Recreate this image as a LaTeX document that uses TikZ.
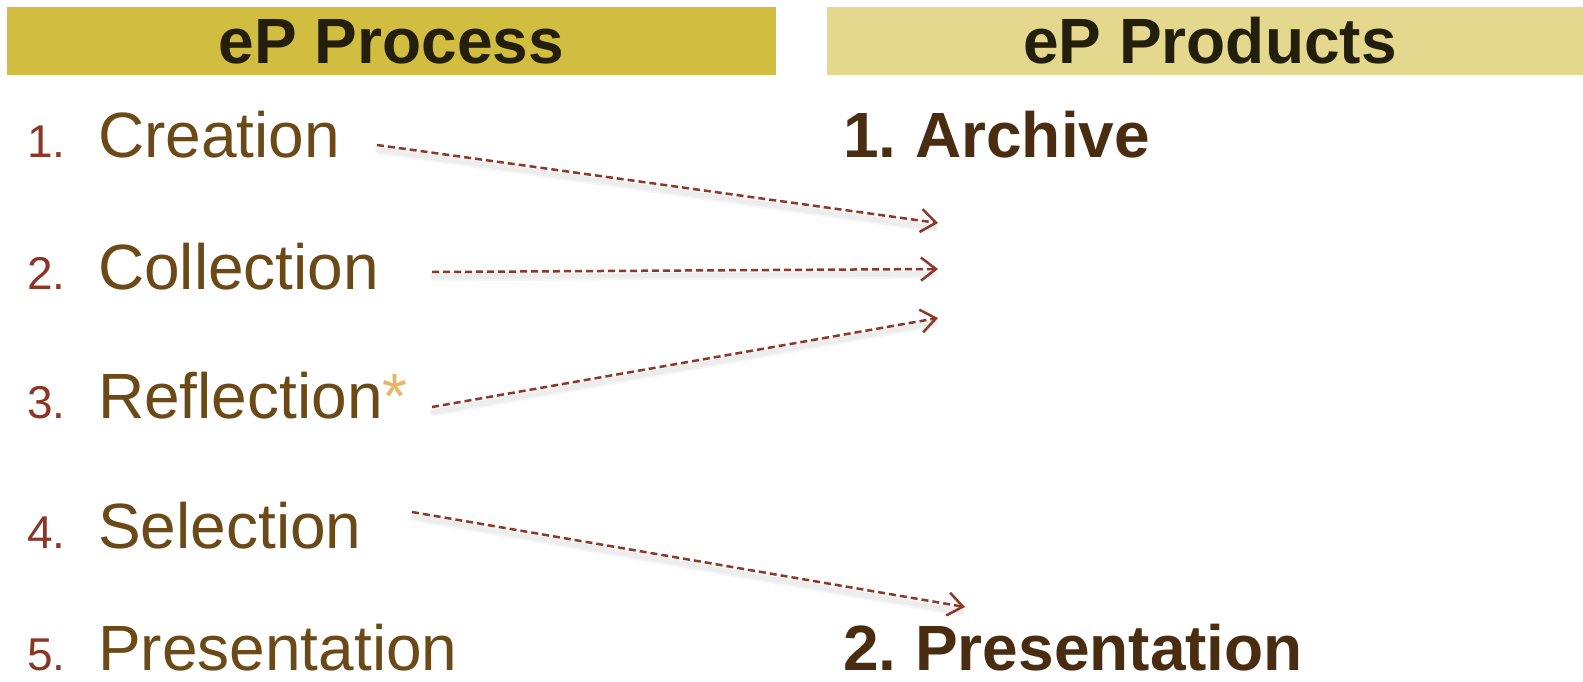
\documentclass[tikz,border=0pt]{standalone}
\usepackage{fontspec}
\setmainfont{Liberation Sans}
\usetikzlibrary{arrows.meta}
\definecolor{hdrA}{RGB}{209,190,64}
\definecolor{hdrB}{RGB}{228,216,142}
\definecolor{hdrtext}{RGB}{35,31,12}
\definecolor{itemtext}{RGB}{107,74,23}
\definecolor{numtext}{RGB}{140,54,38}
\definecolor{prodtext}{RGB}{74,44,16}
\definecolor{startext}{RGB}{230,181,102}
\definecolor{arrowc}{RGB}{139,58,42}
\tikzset{
  hdr/.style={inner sep=0pt, text height=46pt, text depth=0pt, minimum height=68pt,
    font=\fontsize{64}{70}\selectfont\bfseries, text=hdrtext},
  numlabel/.style={anchor=base west, inner sep=0pt, font=\fontsize{46}{50}\selectfont, text=numtext},
  itemlabel/.style={anchor=base west, inner sep=0pt, font=\fontsize{64}{70}\selectfont, text=itemtext},
  prodlabel/.style={anchor=base west, inner sep=0pt, font=\fontsize{64}{70}\selectfont\bfseries, text=prodtext},
  linkarrow/.style={draw=arrowc, line width=2.5pt, dash pattern=on 7pt off 4pt,
    -{Straight Barb[length=15pt,width=23pt,line width=2.5pt]}},
  shadowline/.style={draw=black, draw opacity=0.035, line cap=round}
}
\begin{document}
\begin{tikzpicture}[x=1pt,y=-1pt]
\useasboundingbox (0,0) rectangle (1583,682);
% headers
\node[hdr, fill=hdrA, minimum width=769pt] (h1) at (391.5,41) {eP Process};
\node[hdr, fill=hdrB, minimum width=756pt] (h2) at (1205,41) {};
\node[hdr, minimum height=0pt] (h2t) at (1210,41) {eP Products};
% left list
\node[numlabel] (n1) at (27,158) {1.};
\node[itemlabel] (i1) at (98,158) {Creation};
\node[numlabel] (n2) at (27,289) {2.};
\node[itemlabel] (i2) at (98,289) {Collection};
\node[numlabel] (n3) at (27,418) {3.};
\node[itemlabel] (i3) at (98,418) {Reflection{\color{startext}*}};
\node[numlabel] (n4) at (27,548) {4.};
\node[itemlabel] (i4) at (98,548) {Selection};
\node[numlabel] (n5) at (27,670) {5.};
\node[itemlabel] (i5) at (98,670) {Presentation};
% right list
\node[prodlabel] (p1) at (843,158) {1.\hspace{-5pt} Archive};
\node[prodlabel] (p2) at (843,670) {2.\hspace{-5pt} Presentation};
% arrow ends
\coordinate (s1) at (377,145);
\coordinate (t1) at (938,223);
\coordinate (s2) at (432,272);
\coordinate (t2) at (938,269);
\coordinate (s3) at (432,407);
\coordinate (t3) at (938,318);
\coordinate (s4) at (412,512);
\coordinate (t4) at (965,607);
% soft shadows
\foreach \a/\b in {s1/t1,s2/t2,s3/t3,s4/t4}{
  \draw[shadowline, line width=9pt] ([shift={(2,5)}]\a) -- ([shift={(-4,5)}]\b);
  \draw[shadowline, line width=5pt] ([shift={(2,5)}]\a) -- ([shift={(-4,5)}]\b);
}
% arrows
\draw[linkarrow] (s1) -- (t1);
\draw[linkarrow] (s2) -- (t2);
\draw[linkarrow] (s3) -- (t3);
\draw[linkarrow] (s4) -- (t4);
\end{tikzpicture}
\end{document}
